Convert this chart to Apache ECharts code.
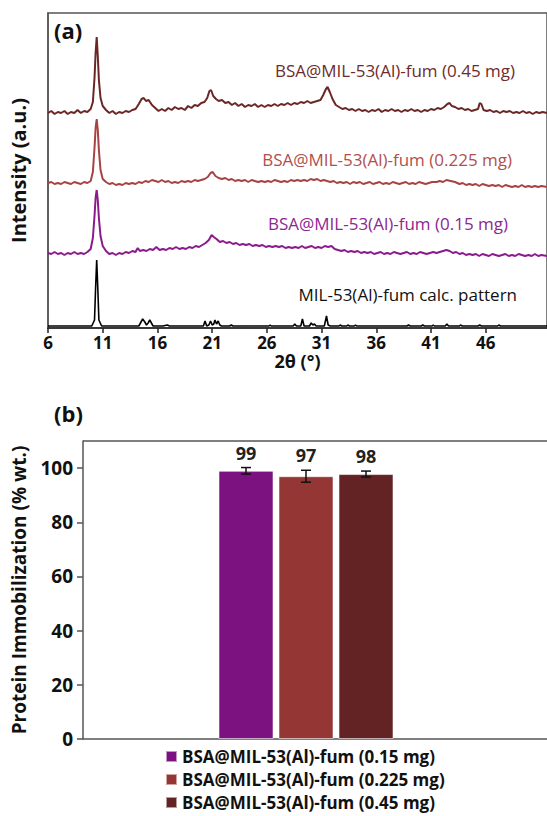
<!DOCTYPE html>
<html>
<head>
<meta charset="utf-8">
<script src="https://cdn.jsdelivr.net/npm/echarts@6/dist/echarts.min.js"></script>
<style>
  html, body { margin: 0; padding: 0; background: #fff; }
  #chart { width: 547px; height: 816px; }
</style>
</head>
<body>
<div id="chart"></div>
<script>
// ---- panel (a): XRD patterns, [2theta, intensity (a.u., stacked offsets)] ----
const xrd045 = [
  [6.0,215],[6.3,217],[6.6,214],[6.9,216],[7.2,215],[7.5,217],[7.8,214],[8.1,216],[8.4,215],[8.7,218],
  [9.0,215],[9.3,217],[9.6,216],[9.9,219],[10.1,226],[10.25,250],[10.35,275],[10.45,291],[10.55,272],[10.65,248],
  [10.8,230],[11.0,222],[11.3,218],[11.6,215],[11.9,217],[12.2,214],[12.5,216],[12.8,215],[13.1,217],[13.4,216],
  [13.7,218],[14.0,219],[14.3,224],[14.55,229],[14.75,230],[14.95,227],[15.2,228],[15.5,223],[15.8,220],[16.1,217],
  [16.4,219],[16.7,217],[17.0,220],[17.3,218],[17.6,221],[17.9,219],[18.2,220],[18.5,218],[18.8,222],[19.1,220],
  [19.4,223],[19.7,222],[20.0,225],[20.3,226],[20.55,230],[20.75,237],[20.9,238],[21.1,232],[21.35,229],[21.6,227],
  [21.9,228],[22.2,225],[22.5,226],[22.8,223],[23.1,225],[23.4,222],[23.7,224],[24.0,221],[24.3,223],[24.6,222],
  [24.9,224],[25.2,221],[25.5,223],[25.8,221],[26.1,223],[26.4,222],[26.7,224],[27.0,222],[27.3,224],[27.6,223],
  [27.9,225],[28.2,223],[28.5,225],[28.8,224],[29.1,226],[29.4,225],[29.7,227],[30.0,225],[30.3,226],[30.6,227],
  [30.9,228],[31.15,233],[31.4,239],[31.55,241],[31.75,236],[32.0,229],[32.3,223],[32.6,221],[32.9,219],[33.2,220],
  [33.5,218],[33.8,219],[34.1,217],[34.4,219],[34.7,217],[35.0,218],[35.3,216],[35.6,218],[35.9,217],[36.2,219],
  [36.5,216],[36.8,218],[37.1,217],[37.4,219],[37.7,217],[38.0,218],[38.3,216],[38.6,218],[38.9,217],[39.2,219],
  [39.5,217],[39.8,218],[40.1,216],[40.4,218],[40.7,217],[41.0,219],[41.3,218],[41.6,220],[41.9,219],[42.2,221],
  [42.5,224],[42.7,225],[42.9,222],[43.2,221],[43.5,219],[43.8,220],[44.1,218],[44.4,219],[44.7,217],[45.0,218],
  [45.3,219],[45.45,225],[45.6,224],[45.8,218],[46.1,217],[46.4,218],[46.7,216],[47.0,217],[47.3,215],[47.6,217],
  [47.9,216],[48.2,217],[48.5,215],[48.8,216],[49.1,215],[49.4,217],[49.7,215],[50.0,216],[50.3,214],[50.6,216],
  [50.9,215],[51.2,216],[51.6,215]
];
const xrd0225 = [
  [6.0,145],[6.3,146],[6.6,144],[6.9,145],[7.2,144],[7.5,146],[7.8,145],[8.1,144],[8.4,146],[8.7,145],
  [9.0,144],[9.3,146],[9.6,145],[9.9,147],[10.1,156],[10.25,180],[10.35,200],[10.45,209],[10.55,198],[10.65,178],
  [10.8,158],[11.0,149],[11.3,146],[11.6,144],[11.9,145],[12.2,143],[12.5,144],[12.8,143],[13.1,145],[13.4,144],
  [13.7,145],[14.0,144],[14.3,146],[14.6,145],[14.9,147],[15.2,146],[15.5,148],[15.8,147],[16.1,146],[16.4,148],
  [16.7,146],[17.0,147],[17.3,145],[17.6,146],[17.9,145],[18.2,147],[18.5,146],[18.8,147],[19.1,146],[19.4,148],
  [19.7,147],[20.0,148],[20.3,149],[20.6,151],[20.85,155],[21.05,156],[21.3,152],[21.6,150],[21.9,149],[22.2,150],
  [22.5,148],[22.8,149],[23.1,147],[23.4,148],[23.7,147],[24.0,148],[24.3,146],[24.6,148],[24.9,147],[25.2,146],
  [25.5,147],[25.8,146],[26.1,147],[26.4,146],[26.7,148],[27.0,147],[27.3,146],[27.6,147],[27.9,146],[28.2,148],
  [28.5,147],[28.8,148],[29.1,147],[29.4,148],[29.7,147],[30.0,149],[30.3,148],[30.6,149],[30.9,147],[31.2,148],
  [31.5,147],[31.8,146],[32.1,147],[32.4,145],[32.7,146],[33.0,145],[33.3,146],[33.6,144],[33.9,146],[34.2,145],
  [34.5,146],[34.8,144],[35.1,145],[35.4,146],[35.7,144],[36.0,145],[36.3,146],[36.6,144],[36.9,145],[37.2,144],
  [37.5,146],[37.8,145],[38.1,144],[38.4,145],[38.7,146],[39.0,144],[39.3,145],[39.6,144],[39.9,146],[40.2,145],
  [40.5,144],[40.8,145],[41.1,146],[41.5,146],[41.8,147],[42.1,146],[42.4,148],[42.8,147],[43.2,146],[43.6,144],
  [43.9,145],[44.2,143],[44.5,144],[44.8,143],[45.1,144],[45.4,142],[45.7,144],[46.0,143],[46.3,142],[46.6,143],
  [46.9,142],[47.2,143],[47.5,141],[47.8,143],[48.1,142],[48.4,141],[48.7,142],[49.0,141],[49.3,143],[49.6,141],
  [49.9,142],[50.2,141],[50.5,142],[50.8,141],[51.1,142],[51.6,141]
];
const xrd015 = [
  [6.0,75],[6.3,74],[6.6,76],[6.9,74],[7.2,75],[7.5,73],[7.8,75],[8.1,74],[8.4,76],[8.7,74],
  [9.0,75],[9.3,74],[9.6,76],[9.9,79],[10.1,90],[10.25,112],[10.35,130],[10.45,138],[10.55,128],[10.65,110],
  [10.8,92],[11.0,82],[11.3,77],[11.6,74],[11.9,75],[12.2,73],[12.5,75],[12.8,74],[13.1,76],[13.4,75],
  [13.7,77],[14.0,76],[14.2,80],[14.4,77],[14.7,78],[15.0,77],[15.3,79],[15.6,78],[15.9,81],[16.2,78],
  [16.5,79],[16.8,78],[17.1,80],[17.4,79],[17.7,81],[18.0,79],[18.3,80],[18.6,79],[18.9,81],[19.2,80],
  [19.5,82],[19.8,81],[20.1,83],[20.4,85],[20.7,88],[20.95,93],[21.15,91],[21.4,89],[21.7,86],[22.0,87],
  [22.3,85],[22.6,86],[22.9,84],[23.2,85],[23.5,83],[23.8,84],[24.1,83],[24.4,84],[24.7,82],[25.0,83],
  [25.3,82],[25.6,83],[25.9,81],[26.2,82],[26.5,81],[26.8,82],[27.1,81],[27.4,82],[27.7,80],[28.0,81],
  [28.3,80],[28.6,81],[28.9,80],[29.2,82],[29.5,80],[29.8,81],[30.1,82],[30.4,80],[30.7,81],[31.0,80],
  [31.3,82],[31.6,81],[31.9,82],[32.2,79],[32.5,78],[32.8,77],[33.1,78],[33.4,76],[33.7,77],[34.0,76],
  [34.3,77],[34.6,75],[34.9,76],[35.2,75],[35.5,76],[35.8,74],[36.1,75],[36.4,76],[36.7,74],[37.0,75],
  [37.3,74],[37.6,76],[37.9,75],[38.2,74],[38.5,75],[38.8,76],[39.1,74],[39.4,75],[39.7,74],[40.0,76],
  [40.3,75],[40.6,74],[40.9,75],[41.2,76],[41.5,75],[41.8,76],[42.1,77],[42.4,78],[42.7,77],[43.0,75],
  [43.3,76],[43.6,74],[43.9,75],[44.2,73],[44.5,74],[44.8,73],[45.1,74],[45.4,72],[45.7,74],[46.0,73],
  [46.3,72],[46.6,74],[46.9,73],[47.2,72],[47.5,73],[47.8,74],[48.1,72],[48.4,73],[48.7,72],[49.0,74],
  [49.3,73],[49.6,72],[49.9,73],[50.2,72],[50.5,74],[50.8,72],[51.1,73],[51.6,72]
];
const xrdCalc = [
  [6.0,2],[10.0,2],[10.25,8],[10.35,40],[10.45,68],[10.55,40],[10.65,8],[10.9,2],[14.3,2],[14.5,6],
  [14.65,9],[14.85,6],[15.0,3],[15.15,5],[15.3,8],[15.45,5],[15.6,2],[16.5,2],[16.9,3],[17.1,2],
  [20.2,2],[20.35,7],[20.5,2],[20.7,3],[20.85,7],[21.0,3],[21.15,4],[21.25,8],[21.4,4],[21.55,7],
  [21.7,3],[21.85,2],[22.6,2],[22.75,3],[22.9,2],[26.2,2],[26.3,3],[26.4,2],[28.4,2],[28.55,4],
  [28.7,2],[29.1,2],[29.25,9],[29.4,2],[29.9,2],[30.05,5],[30.2,3],[30.35,4],[30.5,2],[31.25,2],
  [31.45,12],[31.6,3],[31.8,2],[32.6,2],[32.7,3],[32.85,2],[33.3,2],[33.4,3],[33.55,2],[34.0,2],
  [34.1,3],[34.2,2],[38.8,2],[38.95,3],[39.1,2],[40.1,2],[40.25,3],[40.4,2],[41.1,2],[41.2,3],
  [41.3,2],[42.3,2],[42.45,4],[42.6,2],[43.6,2],[43.7,3],[43.85,2],[45.3,2],[45.45,3],[45.6,2],
  [47.1,2],[47.2,3],[47.35,2],[51.6,2]
];
const xrdNames = ['BSA@MIL-53(Al)-fum (0.45 mg)', 'BSA@MIL-53(Al)-fum (0.225 mg)', 'BSA@MIL-53(Al)-fum (0.15 mg)', 'MIL-53(Al)-fum calc. pattern'];
const xrdTicks = [6, 11, 16, 21, 26, 31, 36, 41, 46];

// ---- panel (b): protein immobilization ----
const samples = ['BSA@MIL-53(Al)-fum (0.15 mg)', 'BSA@MIL-53(Al)-fum (0.225 mg)', 'BSA@MIL-53(Al)-fum (0.45 mg)'];
const immob = [99, 97, 97.8];
const immobErr = [1.2, 2.2, 1.1];
const immobLabels = ['99', '97', '98'];
const immobTicks = [0, 20, 40, 60, 80, 100];

const FONT = '"Open Sans", "Noto Sans", sans-serif';
const barColors = ['#7B1280', '#943634', '#632324'];
const lineColors = ['#6B2626', '#A84343', '#8B1A8D', '#000000'];
const labelColors = ['#6E2B2B', '#B0504D', '#8E2790', '#111111'];
const BAR_W = 55;
const BAR_GAP = 5;

const chart = echarts.init(document.getElementById('chart'), null, { renderer: 'svg' });

const xrdSeries = [xrd045, xrd0225, xrd015, xrdCalc].map((d, i) => ({
  name: 'xrd' + i,
  type: 'line',
  xAxisIndex: 0,
  yAxisIndex: 0,
  data: d,
  symbol: 'none',
  smooth: false,
  lineStyle: { color: lineColors[i], width: i === 3 ? 1.6 : 2 },
  z: 3
}));

const barSeries = samples.map((s, i) => ({
  name: s,
  type: 'bar',
  xAxisIndex: 1,
  yAxisIndex: 1,
  data: [immob[i]],
  barWidth: BAR_W,
  barGap: (BAR_GAP / BAR_W * 100) + '%',
  itemStyle: { color: barColors[i], borderColor: 'rgba(255,255,255,0.55)', borderWidth: 1 }
}));

const errSeries = {
  name: 'err',
  type: 'custom',
  xAxisIndex: 1,
  yAxisIndex: 1,
  data: immob.map((v, i) => [0, v, immobErr[i], i]),
  z: 5,
  renderItem: (params, api) => {
    const i = api.value(3);
    const v = api.value(1);
    const e = api.value(2);
    const off = (i - 1) * (BAR_W + BAR_GAP);
    const top = api.coord([0, v + e]);
    const bot = api.coord([0, v - e]);
    const x = top[0] + off;
    const cap = 5;
    const st = { stroke: '#111', lineWidth: 1.5 };
    return {
      type: 'group',
      children: [
        { type: 'line', shape: { x1: x, y1: top[1], x2: x, y2: bot[1] }, style: st },
        { type: 'line', shape: { x1: x - cap, y1: top[1], x2: x + cap, y2: top[1] }, style: st },
        { type: 'line', shape: { x1: x - cap, y1: bot[1], x2: x + cap, y2: bot[1] }, style: st },
        { type: 'text', x: x, y: top[1] - 6, style: { text: immobLabels[i], fill: '#222', font: 'bold 18px ' + FONT, textAlign: 'center', textVerticalAlign: 'bottom' } }
      ]
    };
  }
};

const option = {
  animation: false,
  backgroundColor: '#fff',
  textStyle: { fontFamily: FONT },
  grid: [
    { left: 48, top: 13, right: 0, bottom: 488, show: true, borderColor: '#555', borderWidth: 1.5 },
    { left: 83, top: 441, right: 18, bottom: 77 }
  ],
  xAxis: [
    {
      gridIndex: 0, type: 'value', min: 6, max: 51.6, interval: 5,
      axisLine: { show: true, onZero: false, lineStyle: { color: '#222', width: 1.5 } },
      axisTick: { show: true, inside: false, length: 5, lineStyle: { color: '#222', width: 1.5 }, customValues: xrdTicks },
      axisLabel: { color: '#111', fontSize: 17, fontWeight: 'bold', margin: 6, customValues: xrdTicks },
      splitLine: { show: false },
      name: '2θ (°)', nameLocation: 'middle', nameGap: 22,
      nameTextStyle: { color: '#111', fontSize: 18, fontWeight: 'bold' }
    },
    {
      gridIndex: 1, type: 'category', data: [''],
      axisLine: { show: false }, axisTick: { show: false }, axisLabel: { show: false }
    }
  ],
  yAxis: [
    {
      gridIndex: 0, type: 'value', min: 0, max: 315,
      axisLine: { show: true, lineStyle: { color: '#555', width: 1.5 } },
      axisTick: { show: false }, axisLabel: { show: false }, splitLine: { show: false },
      name: 'Intensity (a.u.)', nameLocation: 'middle', nameGap: 20,
      nameTextStyle: { color: '#111', fontSize: 20, fontWeight: 'bold' }
    },
    {
      gridIndex: 1, type: 'value', min: 0, max: 110, interval: 20,
      axisLine: { show: true, lineStyle: { color: '#555', width: 1.5 } },
      axisTick: { show: true, inside: false, length: 6, lineStyle: { color: '#555', width: 1.5 }, customValues: immobTicks },
      axisLabel: { color: '#111', fontSize: 19, fontWeight: 'bold', margin: 10, customValues: immobTicks },
      splitLine: { show: false },
      name: 'Protein Immobilization (% wt.)', nameLocation: 'middle', nameGap: 55,
      nameTextStyle: { color: '#111', fontSize: 19, fontWeight: 'bold' }
    }
  ],
  legend: {
    data: samples,
    orient: 'vertical',
    left: 165,
    top: 748,
    padding: 0,
    itemWidth: 11,
    itemHeight: 11,
    itemGap: 6,
    icon: 'rect',
    selectedMode: false,
    textStyle: { color: '#111', fontSize: 17, fontWeight: 'bold', lineHeight: 17, padding: [0, 0, 0, 0] }
  },
  graphic: [
    { type: 'text', left: 54, top: 19, style: { text: '(a)', fill: '#111', font: 'bold 22px ' + FONT } },
    { type: 'text', left: 54, top: 402, style: { text: '(b)', fill: '#111', font: 'bold 22px ' + FONT } },
    { type: 'text', right: 32, top: 62, style: { text: xrdNames[0], fill: labelColors[0], font: '17px ' + FONT } },
    { type: 'text', right: 35, top: 151, style: { text: xrdNames[1], fill: labelColors[1], font: '17px ' + FONT } },
    { type: 'text', right: 39, top: 215, style: { text: xrdNames[2], fill: labelColors[2], font: '17px ' + FONT } },
    { type: 'text', right: 30, top: 286, style: { text: xrdNames[3], fill: labelColors[3], font: '17px ' + FONT } },
    // frame lines of panel (b) running to the page edge
    { type: 'line', shape: { x1: 83, y1: 441, x2: 547, y2: 441 }, style: { stroke: '#555', lineWidth: 1.5 } },
    { type: 'line', shape: { x1: 83, y1: 739, x2: 547, y2: 739 }, style: { stroke: '#555', lineWidth: 1.5 } }
  ],
  series: [...xrdSeries, ...barSeries, errSeries]
};

chart.setOption(option);
</script>
</body>
</html>
